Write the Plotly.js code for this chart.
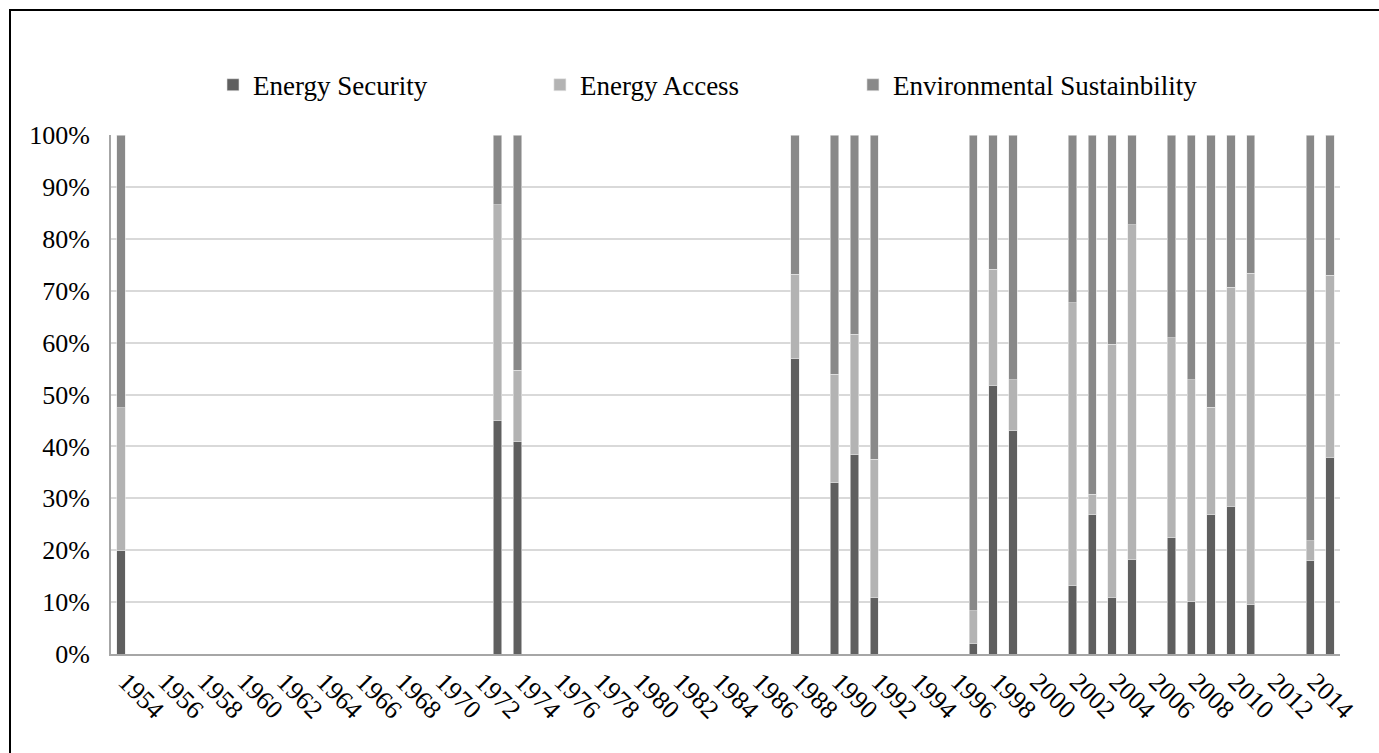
<!DOCTYPE html>
<html>
<head>
<meta charset="utf-8">
<script src="https://cdn.plot.ly/plotly-3.0.1.min.js"></script>
<style>
  html, body { margin: 0; padding: 0; background: #ffffff; }
  #wrap { position: relative; width: 1379px; height: 753px; overflow: hidden; }
  #chart { position: absolute; left: 0; top: 0; width: 1379px; height: 753px; }
  #frame { position: absolute; left: 9px; top: 9px; width: 1400px; height: 800px;
           border-left: 2px solid #000; border-top: 2px solid #000; pointer-events: none; }
</style>
</head>
<body>
<div id="wrap">
  <div id="chart"></div>
  <div id="frame"></div>
</div>
<script>
// Years that have bars
const years = [1954, 1973, 1974, 1988, 1990, 1991, 1992, 1997, 1998, 1999,
               2002, 2003, 2004, 2005, 2007, 2008, 2009, 2010, 2011, 2014, 2015];
// Share of each theme (%), stacked to 100%
const energySecurity = [20.0, 45.0, 40.9, 56.9, 33.0, 38.5, 10.9, 2.1, 51.8, 43.1,
                        13.2, 26.8, 10.9, 18.3, 22.4, 10.1, 26.8, 28.5, 9.5, 18.0, 37.9];
const energyAccess   = [27.4, 41.6, 13.8, 16.3, 20.9, 23.1, 26.6, 6.2, 22.3, 9.7,
                        54.5, 4.0, 48.8, 64.4, 38.5, 42.7, 20.7, 42.2, 63.9, 3.8, 35.1];
const environmental  = [52.6, 13.4, 45.3, 26.8, 46.1, 38.4, 62.5, 91.7, 25.9, 47.2,
                        32.3, 69.2, 40.3, 17.3, 39.1, 47.2, 52.5, 29.3, 26.6, 78.2, 27.0];
const seriesNames = ['Energy Security', 'Energy Access', 'Environmental Sustainbility'];
const seriesColors = ['#5f5f5f', '#b3b3b3', '#898989'];
const tickYears = [1954, 1956, 1958, 1960, 1962, 1964, 1966, 1968, 1970, 1972, 1974,
                   1976, 1978, 1980, 1982, 1984, 1986, 1988, 1990, 1992, 1994, 1996,
                   1998, 2000, 2002, 2004, 2006, 2008, 2010, 2012, 2014];

const FONT = '"Liberation Serif", "Times New Roman", Times, serif';
const seriesValues = [energySecurity, energyAccess, environmental];
const legendIds = ['legend', 'legend2', 'legend3'];
const legendX = [0.083, 0.349, 0.6037];

const traces = seriesValues.map((vals, i) => ({
  type: 'bar',
  name: seriesNames[i],
  legend: legendIds[i],
  x: years,
  y: vals,
  width: 0.42,
  marker: { color: seriesColors[i], line: { color: '#e6e6e6', width: 0.6 } },
  hoverinfo: 'x+y+name'
}));

function legendDef(i) {
  return {
    orientation: 'h',
    x: legendX[i], xanchor: 'left',
    y: 1.096, yanchor: 'middle',
    font: { family: FONT, size: 27, color: '#000000' },
    bgcolor: 'rgba(0,0,0,0)',
    borderwidth: 0
  };
}

const layout = {
  width: 1379,
  height: 753,
  margin: { l: 111, r: 39, t: 135, b: 99, pad: 0 },
  paper_bgcolor: '#ffffff',
  plot_bgcolor: '#ffffff',
  barmode: 'stack',
  font: { family: FONT, size: 26, color: '#000000' },
  showlegend: true,
  legend: legendDef(0),
  legend2: legendDef(1),
  legend3: legendDef(2),
  xaxis: {
    type: 'linear',
    range: [1953.5, 2015.5],
    tickmode: 'array',
    tickvals: tickYears,
    ticktext: tickYears.map(String),
    tickangle: 45,
    ticks: '',
    showgrid: false,
    zeroline: false,
    showline: true,
    linecolor: '#a6a6a6',
    linewidth: 2,
    tickfont: { family: FONT, size: 26, color: '#000000' },
    ticklabelstandoff: 0,
    ticklabelshift: 5,
    fixedrange: true
  },
  yaxis: {
    range: [0, 100],
    tickmode: 'linear',
    tick0: 0,
    dtick: 10,
    ticksuffix: '%',
    ticks: '',
    showgrid: true,
    gridcolor: '#d9d9d9',
    gridwidth: 2,
    zeroline: false,
    showline: true,
    linecolor: '#a6a6a6',
    linewidth: 2,
    tickfont: { family: FONT, size: 26, color: '#000000' },
    ticklabelstandoff: 14,
    fixedrange: true
  }
};

Plotly.newPlot('chart', traces, layout, { displayModeBar: false, staticPlot: true });
</script>
</body>
</html>
